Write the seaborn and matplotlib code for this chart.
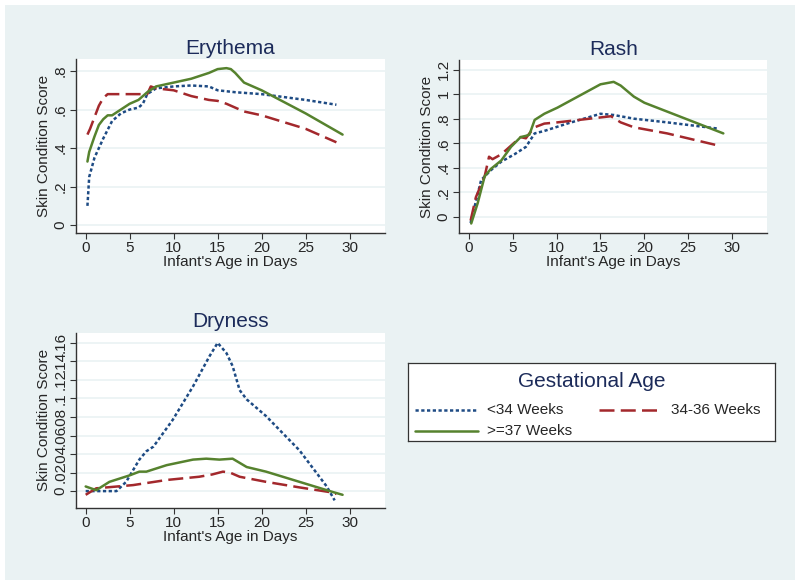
import numpy as np
import pandas as pd
import seaborn as sns
import matplotlib
matplotlib.use("Agg")
import matplotlib.pyplot as plt
from matplotlib.patches import Rectangle
from matplotlib.lines import Line2D

groups = ["<34 Weeks", "34-36 Weeks", ">=37 Weeks"]

# Erythema
ery_x_lt34 = [0.2, 0.4, 1, 2, 3, 4, 5, 6, 6.5, 7, 8, 10, 12, 14, 15, 17, 20, 25, 28.5]
ery_y_lt34 = [0.10, 0.25, 0.35, 0.45, 0.54, 0.58, 0.60, 0.61, 0.63, 0.68, 0.71, 0.72, 0.725, 0.72, 0.70, 0.69, 0.68, 0.65, 0.625]
ery_x_34 = [0.2, 0.5, 1, 1.5, 2, 2.5, 3, 5, 7, 7.4, 8, 10, 12, 14, 15, 16, 18, 20, 25, 28.5]
ery_y_34 = [0.47, 0.50, 0.56, 0.62, 0.66, 0.68, 0.68, 0.68, 0.68, 0.72, 0.71, 0.70, 0.67, 0.65, 0.645, 0.63, 0.59, 0.57, 0.50, 0.43]
ery_x_37 = [0.2, 0.4, 1, 1.5, 2, 2.5, 3, 4, 5, 6, 6.5, 7, 8, 9, 10, 12, 14, 15, 16, 16.5, 17, 18, 20, 25, 29.2]
ery_y_37 = [0.33, 0.38, 0.46, 0.52, 0.55, 0.57, 0.57, 0.60, 0.63, 0.65, 0.67, 0.69, 0.72, 0.73, 0.74, 0.76, 0.79, 0.81, 0.815, 0.81, 0.79, 0.74, 0.70, 0.58, 0.47]

# Rash
rash_x_lt34 = [0.2, 1.4, 2.5, 3.7, 5.2, 6.5, 7.5, 8.6, 11.2, 15, 16.5, 18.8, 22.6, 28.3]
rash_y_lt34 = [-0.05, 0.30, 0.38, 0.45, 0.51, 0.57, 0.68, 0.70, 0.76, 0.84, 0.83, 0.80, 0.77, 0.72]
rash_x_34 = [0.2, 0.8, 1.8, 2.3, 2.7, 3.7, 4.8, 5.9, 6.5, 6.9, 7.5, 8.6, 10.1, 15, 16.2, 17.3, 18.8, 22.6, 28.5]
rash_y_34 = [-0.03, 0.16, 0.33, 0.49, 0.47, 0.51, 0.58, 0.65, 0.64, 0.68, 0.73, 0.76, 0.77, 0.81, 0.82, 0.77, 0.73, 0.68, 0.58]
rash_x_37 = [0.27, 1, 1.8, 2.5, 3.7, 4.8, 5.9, 6.5, 6.9, 7.5, 8.6, 10.1, 15, 16.5, 17.3, 18.8, 20, 29]
rash_y_37 = [-0.054, 0.11, 0.33, 0.39, 0.46, 0.57, 0.65, 0.66, 0.67, 0.79, 0.84, 0.89, 1.08, 1.10, 1.07, 0.98, 0.93, 0.68]

# Dryness
dry_x_lt34 = [0, 3.5, 4.6, 6.1, 6.9, 7.7, 9.9, 12.2, 14.1, 15, 16, 16.7, 17.5, 18.3, 20.5, 24.3, 27.4, 28.3]
dry_y_lt34 = [0.0, 0.0, 0.010, 0.034, 0.043, 0.048, 0.077, 0.113, 0.146, 0.160, 0.149, 0.135, 0.109, 0.099, 0.081, 0.044, 0.005, -0.010]
dry_x_34 = [0, 1.2, 5.4, 9.2, 12.9, 14.4, 15.6, 16.4, 17.5, 20.5, 24.3, 27.7, 28.5]
dry_y_34 = [-0.004, 0.003, 0.0065, 0.012, 0.0155, 0.018, 0.021, 0.020, 0.0155, 0.010, 0.004, -0.001, -0.003]
dry_x_37 = [0, 1.2, 2.7, 5, 6.1, 6.9, 9.2, 12.2, 13.7, 15.2, 16.7, 18.3, 20.5, 24.3, 28.1, 29.2]
dry_y_37 = [0.005, 0.001, 0.010, 0.017, 0.021, 0.021, 0.028, 0.034, 0.035, 0.034, 0.035, 0.026, 0.021, 0.010, -0.001, -0.004]

x_ticks = [0, 5, 10, 15, 20, 25, 30]
ery_ticks = [0, 0.2, 0.4, 0.6, 0.8]
ery_labels = ["0", ".2", ".4", ".6", ".8"]
rash_ticks = [0, 0.2, 0.4, 0.6, 0.8, 1.0, 1.2]
rash_labels = ["0", ".2", ".4", ".6", ".8", "1", "1.2"]
dry_ticks = [0, 0.02, 0.04, 0.06, 0.08, 0.1, 0.12, 0.14, 0.16]
dry_labels = ["0", ".02", ".04", ".06", ".08", ".1", ".12", ".14", ".16"]


def make_df(xs, ys):
    rows = []
    for g, x, y in zip(groups, xs, ys):
        for a, b in zip(x, y):
            rows.append({"day": a, "score": b, "group": g})
    return pd.DataFrame(rows)


sns.set_style("white")
plt.rcParams['font.family'] = ['Liberation Sans', 'DejaVu Sans']

BG = "#EAF2F3"
colors = {"<34 Weeks": "#1E4B84", "34-36 Weeks": "#A3282C", ">=37 Weeks": "#56822E"}
styles = {"<34 Weeks": (0, (1.3, 1.0)), "34-36 Weeks": (0, (6, 2.5)), ">=37 Weeks": "-"}
TITLE_C = "#1C2B5A"

fig = plt.figure(figsize=(8, 5.85), dpi=100, facecolor="white")
fig.patches.append(Rectangle((5 / 800, 5 / 585), 790 / 800, 575 / 585,
                             transform=fig.transFigure, facecolor=BG, edgecolor="none", zorder=-10))

panels = [
    ("Erythema", [0.095, 0.602, 0.386, 0.297], (ery_x_lt34, ery_x_34, ery_x_37), (ery_y_lt34, ery_y_34, ery_y_37),
     (-0.04, 0.862), ery_ticks, ery_labels),
    ("Rash", [0.574, 0.602, 0.385, 0.295], (rash_x_lt34, rash_x_34, rash_x_37), (rash_y_lt34, rash_y_34, rash_y_37),
     (-0.13, 1.276), rash_ticks, rash_labels),
    ("Dryness", [0.095, 0.132, 0.386, 0.299], (dry_x_lt34, dry_x_34, dry_x_37), (dry_y_lt34, dry_y_34, dry_y_37),
     (-0.018, 0.1708), dry_ticks, dry_labels),
]

for title, rect, xs, ys, ylim, yt, yl in panels:
    ax = fig.add_axes(rect)
    ax.set_facecolor("white")
    df = make_df(xs, ys)
    for g in groups:
        sub = df[df.group == g]
        sns.lineplot(data=sub, x="day", y="score", ax=ax, color=colors[g], linestyle=styles[g],
                     linewidth=1.8, sort=False, estimator=None, legend=False)
    ax.set_xlim(-1.1, 34)
    ax.set_ylim(*ylim)
    ax.set_xticks(x_ticks)
    ax.set_xticklabels([str(t) for t in x_ticks], fontsize=11)
    ax.set_yticks(yt)
    ax.set_yticklabels(yl, fontsize=11, rotation=90, va="center")
    ax.grid(axis="y", color=BG, linewidth=1.2)
    ax.grid(axis="x", visible=False)
    ax.set_axisbelow(True)
    ax.set_xlabel("Infant's Age in Days", fontsize=11, labelpad=0)
    ax.set_ylabel("Skin Condition Score", fontsize=11, labelpad=2)
    ax.set_title(title, fontsize=15, color=TITLE_C, pad=4)
    for s in ["top", "right"]:
        ax.spines[s].set_visible(False)
    for s in ["left", "bottom"]:
        ax.spines[s].set_color("#333333")
        ax.spines[s].set_linewidth(1.0)
    ax.tick_params(axis="both", which="major", length=4, width=0.8, color="#333333", pad=2, direction="out",
                   left=True, bottom=True)

# Legend
lax = fig.add_axes([0.51, 0.246, 0.459, 0.133])
lax.set_xlim(0, 1)
lax.set_ylim(0, 1)
lax.set_xticks([])
lax.set_yticks([])
lax.set_facecolor("white")
for s in lax.spines.values():
    s.set_color("#333333")
    s.set_linewidth(0.9)
lax.text(0.5, 0.76, "Gestational Age", ha="center", va="center", fontsize=15, color=TITLE_C)
entries = [(groups[0], 0.02, 0.19, 0.215, 0.40),
           (groups[1], 0.52, 0.69, 0.715, 0.40),
           (groups[2], 0.02, 0.19, 0.215, 0.13)]
for g, x0, x1, tx, y in entries:
    lax.add_line(Line2D([x0, x1], [y, y], color=colors[g], linestyle=styles[g], linewidth=1.8))
    lax.text(tx, y, g, va="center", ha="left", fontsize=11)

fig.savefig("out.png", dpi=100, facecolor=fig.get_facecolor())
